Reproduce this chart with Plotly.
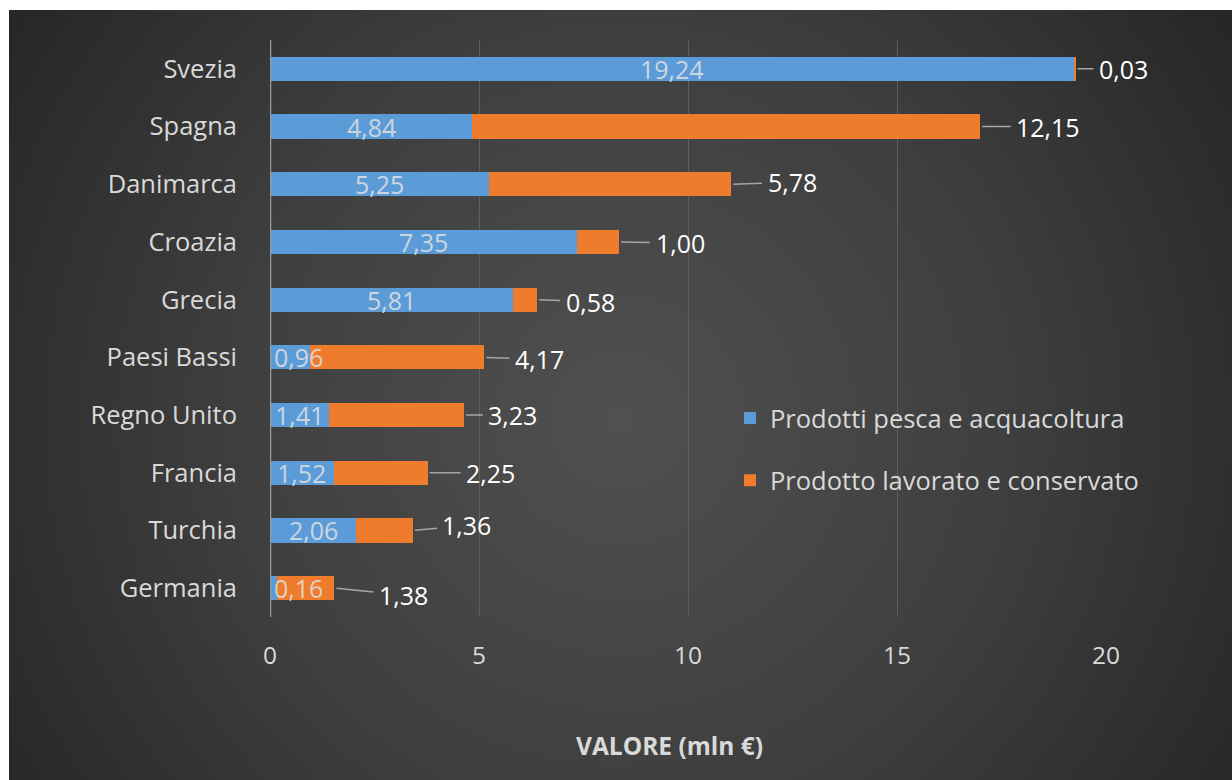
import urllib.parse
import plotly.graph_objects as go

# Export value by country (mln €)
paesi = ["Svezia", "Spagna", "Danimarca", "Croazia", "Grecia",
         "Paesi Bassi", "Regno Unito", "Francia", "Turchia", "Germania"]
pesca = [19.24, 4.84, 5.25, 7.35, 5.81, 0.96, 1.41, 1.52, 2.06, 0.16]
lavorato = [0.03, 12.15, 5.78, 1.00, 0.58, 4.17, 3.23, 2.25, 1.36, 1.38]
tick_vals = [0, 5, 10, 15, 20]
serie_nomi = ["Prodotti pesca e acquacoltura", "Prodotto lavorato e conservato"]
titolo_x = "VALORE (mln €)"

# Pixel offsets of the outside labels (leader lines) per country
label_dx = [48, 68, 61, 61, 53, 55, 49, 63, 54, 69]
label_dy = [0, 0, -2, 1, 2, 2, 0, 0, -5, 7]

W, H = 1232, 780
L, R, T, B = 270, 126, 40, 163
PW, PH = W - L - R, H - T - B

FONT = "Open Sans"
BLUE = "#5b9bd8"
ORANGE = "#ef7b2c"
TXT = "#d9d9d9"


def fmt(v):
    return f"{v:.2f}".replace(".", ",")


# Dark radial-gradient backdrop with a thin white border on the top/left
svg = f"""<svg xmlns='http://www.w3.org/2000/svg' width='{W}' height='{H}' viewBox='0 0 {W} {H}'>
<defs><radialGradient id='g' cx='{620}' cy='{420}' r='{720}' gradientUnits='userSpaceOnUse'>
<stop offset='0' stop-color='#505050'/><stop offset='0.55' stop-color='#3e3e3e'/><stop offset='1' stop-color='#272727'/>
</radialGradient></defs>
<rect x='0' y='0' width='{W}' height='{H}' fill='#ffffff'/>
<rect x='9' y='10' width='{W - 9}' height='{H - 10}' fill='url(#g)'/>
</svg>"""
bg_uri = "data:image/svg+xml;charset=utf-8," + urllib.parse.quote(svg)

fig = go.Figure()
fig.add_trace(go.Bar(
    y=paesi, x=pesca, orientation="h", name=serie_nomi[0],
    marker=dict(color=BLUE, line=dict(width=0)), width=0.42,
    legendgroup="a", hoverinfo="x+y",
))
fig.add_trace(go.Bar(
    y=paesi, x=lavorato, orientation="h", name=serie_nomi[1],
    marker=dict(color=ORANGE, line=dict(width=0)), width=0.42,
    legendgroup="b", hoverinfo="x+y",
))

annotations = []
px_per_unit = PW / 20.0
min_center = 28 / px_per_unit
for p, a, b, dx, dy in zip(paesi, pesca, lavorato, label_dx, label_dy):
    # value of the first series, inside the bar
    annotations.append(dict(
        x=max(a / 2, min_center), y=p, text=fmt(a), showarrow=False,
        xanchor="center", yanchor="middle",
        font=dict(family=FONT, size=25, color="rgba(225,225,225,0.85)"),
    ))
    # value of the second series, outside the bar end with a leader line
    annotations.append(dict(
        x=a + b, y=p, text=fmt(b), showarrow=True, arrowhead=0,
        arrowwidth=1.5, arrowcolor="#a6a6a6", ax=dx, ay=dy,
        xanchor="center", yanchor="middle", standoff=2, borderpad=5,
        font=dict(family=FONT, size=25, color="#ffffff"),
    ))

# Horizontal axis title
annotations.append(dict(
    x=(669 - L) / PW, y=-(745 - T - PH) / PH, xref="paper", yref="paper",
    text=f"<b>{titolo_x}</b>", showarrow=False,
    xanchor="center", yanchor="middle",
    font=dict(family=FONT, size=24.5, color=TXT),
))

fig.update_layout(
    width=W, height=H,
    margin=dict(l=L, r=R, t=T, b=B, pad=0),
    paper_bgcolor="#ffffff", plot_bgcolor="rgba(0,0,0,0)",
    barmode="stack", bargap=0.58,
    font=dict(family=FONT, color=TXT, size=25),
    images=[dict(
        source=bg_uri, xref="paper", yref="paper",
        x=-L / PW, y=1 + T / PH, sizex=W / PW, sizey=H / PH,
        xanchor="left", yanchor="top", sizing="stretch", layer="below",
    )],
    xaxis=dict(
        range=[0, 20], tickvals=tick_vals, ticktext=[str(v) for v in tick_vals],
        showgrid=True, gridcolor="#5e5e5e", gridwidth=1,
        zeroline=False, showline=False, ticks="",
        tickfont=dict(family=FONT, size=24.5, color=TXT),
        ticklabelstandoff=21,
        fixedrange=True,
    ),
    yaxis=dict(
        categoryorder="array", categoryarray=paesi,
        range=[9.5, -0.5], showgrid=False, zeroline=False,
        showline=False, ticks="", ticklabelstandoff=32,
        tickfont=dict(family=FONT, size=25.5, color=TXT),
        fixedrange=True,
    ),
    legend=dict(
        x=(730 - L) / PW, y=1 - (395 - T) / PH, xanchor="left", yanchor="top",
        bgcolor="rgba(0,0,0,0)", traceorder="grouped", tracegroupgap=26,
        font=dict(family=FONT, size=25.5, color=TXT),
    ),
    annotations=annotations,
    shapes=[dict(
        type="line", xref="x", yref="paper", x0=0, x1=0, y0=0, y1=1,
        line=dict(color="#9a9a9a", width=2.5), layer="above",
    )],
)

fig.write_html("out.html")
